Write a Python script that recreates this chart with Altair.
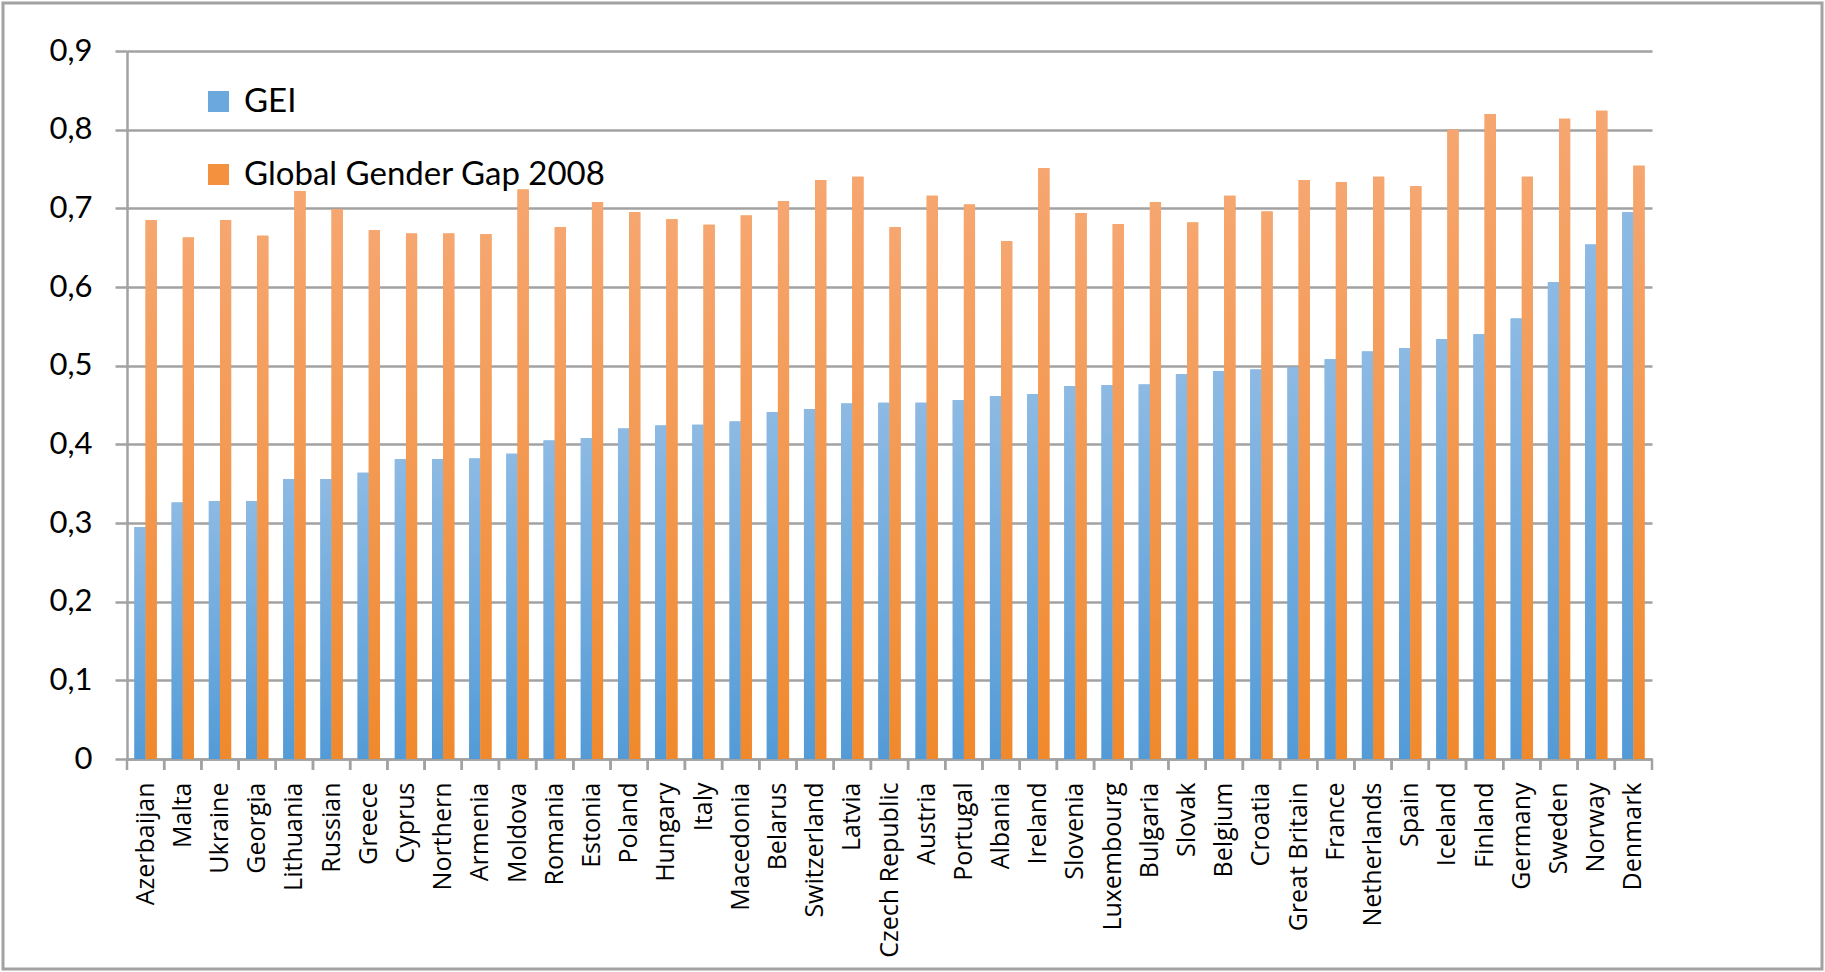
import altair as alt
import pandas as pd

countries = ["Azerbaijan", "Malta", "Ukraine", "Georgia", "Lithuania", "Russian", "Greece",
             "Cyprus", "Northern", "Armenia", "Moldova", "Romania", "Estonia", "Poland",
             "Hungary", "Italy", "Macedonia", "Belarus", "Switzerland", "Latvia",
             "Czech Republic", "Austria", "Portugal", "Albania", "Ireland", "Slovenia",
             "Luxembourg", "Bulgaria", "Slovak", "Belgium", "Croatia", "Great Britain",
             "France", "Netherlands", "Spain", "Iceland", "Finland", "Germany", "Sweden",
             "Norway", "Denmark"]
gei = [0.295, 0.326, 0.328, 0.328, 0.356, 0.356, 0.364, 0.381, 0.381, 0.382, 0.388,
       0.405, 0.408, 0.420, 0.424, 0.425, 0.429, 0.441, 0.445, 0.452, 0.453, 0.453,
       0.456, 0.461, 0.464, 0.474, 0.475, 0.476, 0.489, 0.493, 0.495, 0.498, 0.508,
       0.518, 0.522, 0.534, 0.540, 0.560, 0.606, 0.654, 0.695]
ggg = [0.685, 0.663, 0.685, 0.665, 0.722, 0.699, 0.672, 0.668, 0.668, 0.667, 0.724,
       0.676, 0.708, 0.695, 0.686, 0.679, 0.691, 0.709, 0.736, 0.740, 0.676, 0.716,
       0.705, 0.658, 0.751, 0.694, 0.680, 0.708, 0.682, 0.716, 0.696, 0.736, 0.733,
       0.740, 0.728, 0.800, 0.820, 0.740, 0.814, 0.824, 0.754]
series_names = ["GEI", "Global Gender Gap 2008"]
y_ticks = [0.0, 0.1, 0.2, 0.3, 0.4, 0.5, 0.6, 0.7, 0.8, 0.9]

rows = []
for c, a, b in zip(countries, gei, ggg):
    rows.append({"country": c, "series": series_names[0], "value": a})
    rows.append({"country": c, "series": series_names[1], "value": b})
df = pd.DataFrame(rows)
ticks_df = pd.DataFrame({"country": countries})

GRAY = "#a2a2a2"
W, H = 1525, 708


def grad(top, bottom):
    return alt.Gradient(
        gradient="linear",
        stops=[alt.GradientStop(color=top, offset=0), alt.GradientStop(color=bottom, offset=1)],
        x1=0, x2=0, y1=0, y2=1,
    )


x_enc = alt.X(
    "country:N", sort=countries,
    scale=alt.Scale(paddingInner=0.4, paddingOuter=0.2),
    axis=alt.Axis(title=None, labelAngle=270, labelAlign="right", labelBaseline="middle",
                  labelFont="Open Sans", labelFontSize=25, labelColor="black",
                  labelPadding=23, ticks=False, domain=True, domainColor=GRAY,
                  domainWidth=2.5, labelOverlap=False, labelLimit=0, grid=False),
)
y_enc = alt.Y(
    "value:Q",
    scale=alt.Scale(domain=[0, 0.9], nice=False, zero=True),
    axis=alt.Axis(title=None, values=y_ticks,
                  labelExpr="datum.value == 0 ? '0' : replace(format(datum.value, '.1f'), '.', ',')",
                  labelFont="Lato", labelFontSize=31, labelColor="black", labelPadding=23,
                  tickSize=12, tickColor=GRAY, tickWidth=2.5,
                  domainColor=GRAY, domainWidth=2.5,
                  grid=True, gridColor=GRAY, gridWidth=2.5),
)
xoff = alt.XOffset("series:N", sort=series_names, scale=alt.Scale(paddingInner=0, paddingOuter=0))

base = alt.Chart(df).encode(x=x_enc, y=y_enc, xOffset=xoff)

solid = base.mark_bar().encode(
    color=alt.Color(
        "series:N", sort=series_names,
        scale=alt.Scale(domain=series_names, range=["#6ba8de", "#f3913f"]),
        legend=alt.Legend(title=None, orient="none", legendX=75, legendY=34,
                          direction="vertical", symbolType="square", symbolSize=441,
                          symbolStrokeWidth=0, labelFont="Lato", labelFontSize=33,
                          labelColor="black", labelOffset=9, rowPadding=39, padding=0,
                          labelLimit=0),
    )
)
blue = base.transform_filter(alt.datum.series == series_names[0]).mark_bar(
    color=grad("#8dbae3", "#539bd7"))
orange = base.transform_filter(alt.datum.series == series_names[1]).mark_bar(
    color=grad("#f6a670", "#f0892c"))

bars = alt.layer(solid, blue, orange)

tick_scale = alt.Scale(paddingInner=0, paddingOuter=0)
t_end = alt.Chart(ticks_df).mark_rule(color=GRAY, strokeWidth=2.5).encode(
    x=alt.X("country:N", sort=countries, scale=tick_scale, axis=None, bandPosition=1),
    y=alt.value(H), y2=alt.value(H + 11))
t_start = alt.Chart(ticks_df).mark_rule(color=GRAY, strokeWidth=2.5).encode(
    x=alt.X("country:N", sort=countries, scale=tick_scale, axis=None, bandPosition=0),
    y=alt.value(H), y2=alt.value(H + 11))
ticks = alt.layer(t_end, t_start)

border = alt.Chart(pd.DataFrame({"a": [0]})).mark_rect(
    fillOpacity=0, stroke=GRAY, strokeWidth=3).encode(
    x=alt.value(-124), x2=alt.value(1695), y=alt.value(-48), y2=alt.value(918))

chart = alt.layer(bars, ticks, border).resolve_scale(x="independent").properties(
    width=W, height=H,
    autosize=alt.AutoSizeParams(type="none"),
    padding={"left": 127, "top": 51, "right": 173, "bottom": 213},
    background="white",
).configure_view(stroke=None)

chart.save("out.html", embed_options={"renderer": "svg", "actions": False})
